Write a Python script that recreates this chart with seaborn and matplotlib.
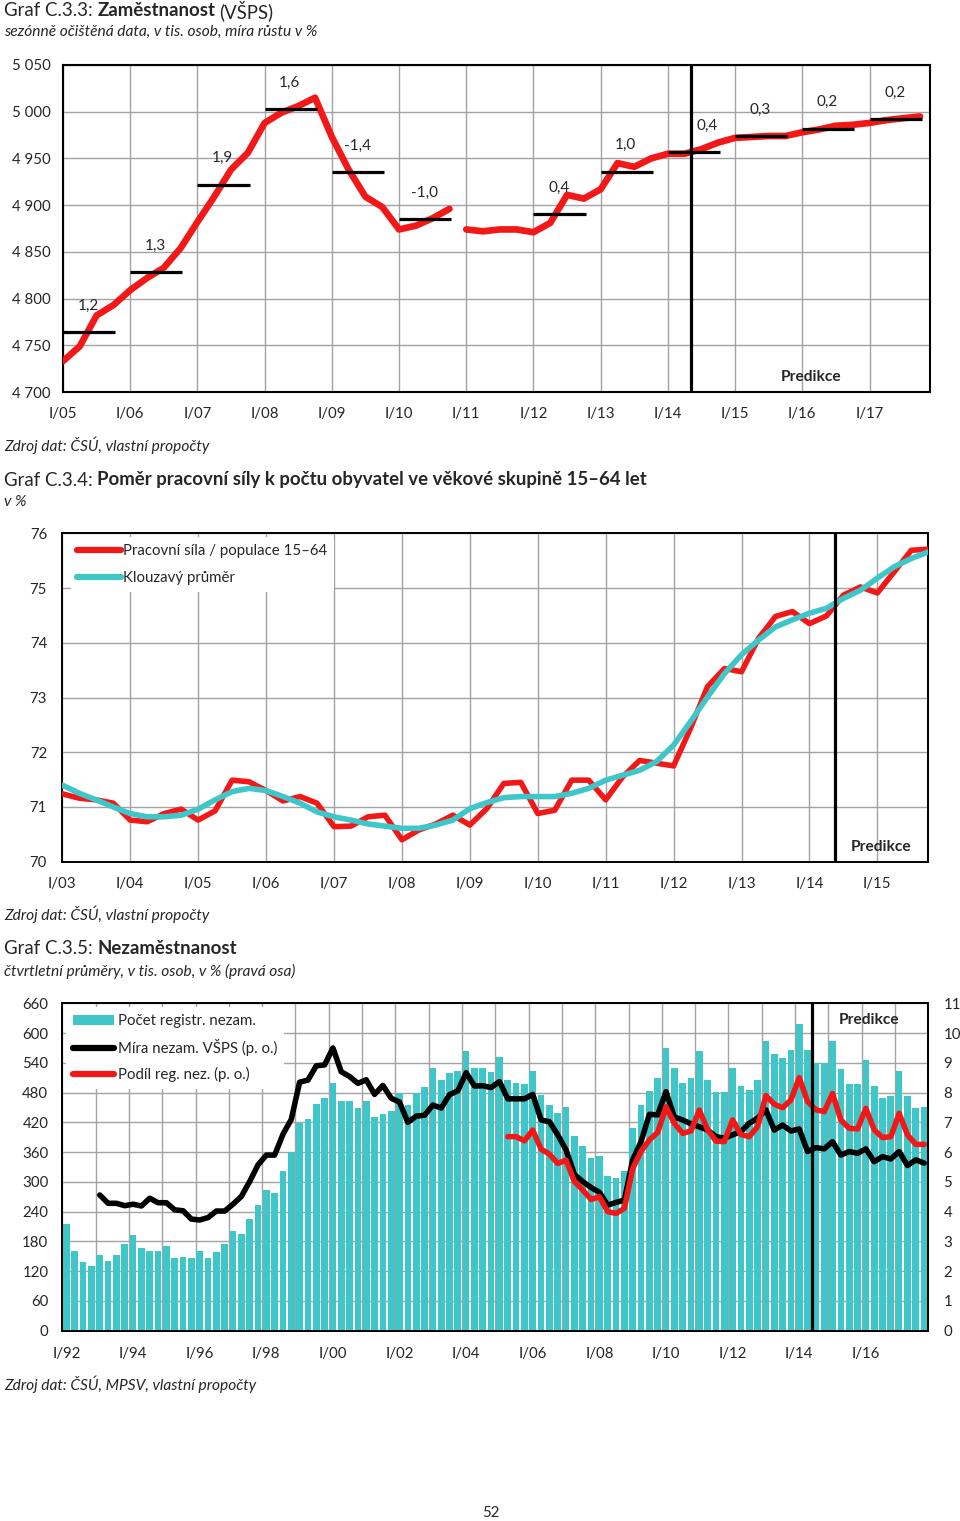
import numpy as np
import matplotlib

matplotlib.use("Agg")
import matplotlib.pyplot as plt
import seaborn as sns
from matplotlib.lines import Line2D
from matplotlib.patches import Patch

# --- Graf C.3.3: employment (thousands), quarterly 2005Q1..2017Q4 -------------
emp_q = [
    4733, 4749, 4782, 4793, 4809, 4822, 4833, 4854, 4882, 4909, 4938, 4956,
    4988, 4999, 5006, 5015, 4973, 4938, 4909, 4898, 4874, 4878, 4886, 4896,
    4874, 4872, 4874, 4874, 4871, 4881, 4911, 4907, 4917, 4945, 4941, 4950,
    4955, 4955, 4960, 4967, 4972, 4973, 4974, 4974, 4978, 4981, 4985, 4986,
    4988, 4991, 4993, 4995,
]
emp_year_avg = [4764, 4828, 4922, 5003, 4935, 4885, np.nan, 4890, 4936, 4957, 4974, 4982, 4992]
emp_growth = [1.2, 1.3, 1.9, 1.6, -1.4, -1.0, np.nan, 0.4, 1.0, 0.4, 0.3, 0.2, 0.2]
emp_xlabels = ["I/05", "I/06", "I/07", "I/08", "I/09", "I/10", "I/11",
               "I/12", "I/13", "I/14", "I/15", "I/16", "I/17"]

# --- Graf C.3.4: labour force / population 15-64, 2003Q1..2015Q4 ------------
lf_ratio = [
    71.24, 71.16, 71.13, 71.07, 70.76, 70.73, 70.88, 70.96, 70.76, 70.93, 71.49, 71.46,
    71.30, 71.11, 71.19, 71.07, 70.64, 70.65, 70.82, 70.85, 70.40, 70.58, 70.69, 70.85,
    70.67, 70.97, 71.43, 71.45, 70.88, 70.94, 71.49, 71.49, 71.13, 71.55, 71.85, 71.80,
    71.75, 72.44, 73.20, 73.53, 73.47, 74.08, 74.48, 74.57, 74.35, 74.49, 74.87, 75.02,
    74.91, 75.30, 75.69, 75.71,
]
lf_ma = [
    71.40, 71.25, 71.13, 71.00, 70.88, 70.82, 70.82, 70.85, 70.96, 71.13, 71.28, 71.34,
    71.30, 71.19, 71.07, 70.91, 70.82, 70.76, 70.69, 70.65, 70.61, 70.61, 70.67, 70.76,
    70.97, 71.08, 71.17, 71.19, 71.19, 71.19, 71.25, 71.34, 71.49, 71.58, 71.67, 71.83,
    72.13, 72.56, 73.01, 73.44, 73.78, 74.05, 74.29, 74.42, 74.54, 74.63, 74.81, 74.96,
    75.18, 75.39, 75.54, 75.66,
]
lf_xlabels = ["I/03", "I/04", "I/05", "I/06", "I/07", "I/08", "I/09",
              "I/10", "I/11", "I/12", "I/13", "I/14", "I/15"]

# --- Graf C.3.5: unemployment, 1992Q1..2017Q4 --------------------------------
reg_unemp = [
    216, 161, 138, 131, 152, 140, 152, 174, 192, 167, 161, 161,
    171, 146, 149, 146, 161, 146, 158, 174, 201, 195, 225, 253,
    283, 277, 321, 360, 419, 426, 457, 469, 499, 463, 463, 448,
    463, 430, 437, 443, 480, 455, 480, 491, 530, 505, 519, 523,
    564, 530, 530, 521, 551, 505, 500, 497, 524, 475, 454, 439,
    451, 393, 372, 348, 353, 311, 307, 321, 408, 455, 484, 509,
    569, 530, 500, 509, 564, 505, 481, 481, 530, 494, 485, 505,
    583, 558, 549, 565, 618, 565, 539, 539, 583, 528, 497, 497,
    546, 494, 470, 473, 524, 473, 448, 451,
]
vsps_rate = [np.nan] * 4 + [
    4.56, 4.28, 4.28, 4.20, 4.25, 4.19, 4.45, 4.30, 4.30, 4.06, 4.03, 3.75,
    3.72, 3.80, 4.02, 4.02, 4.25, 4.51, 5.01, 5.57, 5.90, 5.90, 6.60, 7.10,
    8.35, 8.42, 8.90, 8.93, 9.50, 8.70, 8.54, 8.31, 8.43, 7.94, 8.24, 7.81,
    7.68, 7.00, 7.21, 7.24, 7.58, 7.48, 7.93, 8.06, 8.67, 8.22, 8.23, 8.17,
    8.37, 7.79, 7.79, 7.79, 7.94, 7.08, 7.02, 6.58, 6.07, 5.25, 5.01, 4.81,
    4.65, 4.22, 4.31, 4.39, 5.74, 6.35, 7.27, 7.25, 8.03, 7.18, 7.08, 6.95,
    6.85, 6.74, 6.52, 6.47, 6.58, 6.69, 6.97, 7.14, 7.42, 6.74, 6.91, 6.71,
    6.78, 6.02, 6.15, 6.11, 6.35, 5.90, 6.02, 5.96, 6.11, 5.68, 5.85, 5.77,
    6.02, 5.55, 5.74, 5.63,
]
reg_share = [np.nan] * 53 + [
    6.52, 6.52, 6.38, 6.74, 6.10, 5.93, 5.62, 5.73, 5.01, 4.73, 4.41,
    4.50, 4.00, 3.94, 4.11, 5.45, 6.02, 6.41, 6.66, 7.52, 6.97, 6.63, 6.71,
    7.41, 6.75, 6.37, 6.35, 7.08, 6.59, 6.52, 6.86, 7.90, 7.61, 7.49, 7.75,
    8.50, 7.70, 7.42, 7.36, 7.97, 7.08, 6.80, 6.78, 7.47, 6.75, 6.49, 6.52,
    7.30, 6.58, 6.26, 6.26,
]
un_xlabels = ["I/92", "I/94", "I/96", "I/98", "I/00", "I/02", "I/04",
              "I/06", "I/08", "I/10", "I/12", "I/14", "I/16"]

RED = "#F21818"
CYAN = "#3EC6C9"
GRID = "#A3A3A3"
W, H = 960, 1521
FS = 10.8

sns.set_style("white")
plt.rcParams["font.family"] = ["Lato", "DejaVu Sans"]
plt.rcParams["axes.unicode_minus"] = False


def heading(fig, y_px, parts, size=13.4):
    """Write a line of mixed regular/bold text starting at the left margin."""
    renderer = fig.canvas.get_renderer()
    x = 4
    for txt, weight in parts:
        t = fig.text(x / W, 1 - y_px / H, txt, fontsize=size, fontweight=weight,
                     va="center", ha="left")
        x = t.get_window_extent(renderer).x1 + 4.5


def note(fig, y_px, txt, size=11.2, style="italic"):
    fig.text(4 / W, 1 - y_px / H, txt, fontsize=size, style=style, va="center", ha="left")


def frame(ax, lw=1.4):
    for s in ax.spines.values():
        s.set_visible(True)
        s.set_color("black")
        s.set_linewidth(lw)
    ax.set_xlabel("")
    ax.set_ylabel("")


def axes_at(fig, left, top, right, bottom):
    return fig.add_axes([left / W, 1 - bottom / H, (right - left) / W, (bottom - top) / H])


def white_legend(ax, handles, labels, anchor, handlelength, textpad, spacing):
    leg = ax.legend(handles=handles, labels=labels, loc="upper left",
                    bbox_to_anchor=anchor, frameon=True, fontsize=FS,
                    handlelength=handlelength, handletextpad=textpad,
                    borderaxespad=0.1, borderpad=0.45, labelspacing=spacing)
    leg.get_frame().set_facecolor("white")
    leg.get_frame().set_edgecolor("none")
    leg.get_frame().set_alpha(1)
    return leg


fig = plt.figure(figsize=(9.6, 15.21), dpi=100)

# ============================ Graf C.3.3 ============================
heading(fig, 11, [("Graf C.3.3:", "normal"), ("Zaměstnanost", "bold"), ("(VŠPS)", "normal")])
note(fig, 32, "sezónně očištěná data, v tis. osob, míra růstu v %")

ax1 = axes_at(fig, 63, 65, 930, 392)
q1 = np.arange(len(emp_q))
line_kw = dict(solid_capstyle="round", solid_joinstyle="round", estimator=None)
sns.lineplot(x=q1[:24], y=emp_q[:24], ax=ax1, color=RED, linewidth=4.8, zorder=3, **line_kw)
sns.lineplot(x=q1[24:], y=emp_q[24:], ax=ax1, color=RED, linewidth=4.8, zorder=3, **line_kw)

forecast1 = 37.35
for k, (avg, g) in enumerate(zip(emp_year_avg, emp_growth)):
    if np.isnan(avg):
        continue
    ax1.hlines(avg, 4 * k, 4 * k + 3.1, color="black", linewidth=2.3, zorder=4)
    lx = 4 * k + 1.5
    if abs(lx - forecast1) < 1.0:
        lx = forecast1 + 1.0
    ax1.annotate(f"{g:.1f}".replace(".", ","), (lx, avg), xytext=(0, 19),
                 textcoords="offset points", ha="center", va="center", fontsize=11)

ax1.axvline(forecast1, color="black", linewidth=2.3, zorder=5)
ax1.text(0.863, 0.046, "Predikce", transform=ax1.transAxes, ha="center", va="center",
         fontsize=11.2, fontweight="bold")
ax1.set_xlim(0, 51.6)
ax1.set_ylim(4700, 5050)
yt1 = np.arange(4700, 5051, 50)
ax1.set_yticks(yt1)
ax1.set_yticklabels([f"{v:,}".replace(",", " ") for v in yt1])
ax1.set_xticks(np.arange(0, 52, 4))
ax1.set_xticklabels(emp_xlabels)
ax1.grid(True, color=GRID, linewidth=1.0)
ax1.set_axisbelow(True)
ax1.tick_params(length=0, labelsize=FS)
ax1.tick_params(axis="y", pad=9)
ax1.tick_params(axis="x", pad=11)
frame(ax1, 1.5)
note(fig, 445, "Zdroj dat: ČSÚ, vlastní propočty")

# ============================ Graf C.3.4 ============================
heading(fig, 480, [("Graf C.3.4:", "normal"),
                   ("Poměr pracovní síly k počtu obyvatel ve věkové skupině 15–64 let", "bold")])
note(fig, 502, "v %")

ax2 = axes_at(fig, 62.3, 533.3, 928.3, 861.7)
q2 = np.arange(len(lf_ratio))
sns.lineplot(x=q2, y=lf_ratio, ax=ax2, color=RED, linewidth=4.0, zorder=3, **line_kw)
sns.lineplot(x=q2, y=lf_ma, ax=ax2, color=CYAN, linewidth=4.0, zorder=4, **line_kw)
ax2.axvline(45.5, color="black", linewidth=2.3, zorder=5)
ax2.text(0.945, 0.045, "Predikce", transform=ax2.transAxes, ha="center", va="center",
         fontsize=11.2, fontweight="bold")
ax2.set_xlim(0, 51)
ax2.set_ylim(70, 76)
ax2.set_yticks(np.arange(70, 77, 1))
ax2.set_xticks(np.arange(0, 52, 4))
ax2.set_xticklabels(lf_xlabels)
ax2.grid(True, color=GRID, linewidth=1.0)
ax2.set_axisbelow(True)
ax2.tick_params(length=0, labelsize=FS)
ax2.tick_params(axis="y", pad=11)
ax2.tick_params(axis="x", pad=11)
frame(ax2, 1.4)
white_legend(
    ax2,
    [Line2D([], [], color=RED, linewidth=4.5, solid_capstyle="round"),
     Line2D([], [], color=CYAN, linewidth=4.5, solid_capstyle="round")],
    ["Pracovní síla / populace 15–64", "Klouzavý průměr"],
    (0.008, 0.993), 2.9, 0.12, 0.9,
)
note(fig, 914, "Zdroj dat: ČSÚ, vlastní propočty")

# ============================ Graf C.3.5 ============================
heading(fig, 949, [("Graf C.3.5:", "normal"), ("Nezaměstnanost", "bold")])
note(fig, 971, "čtvrtletní průměry, v tis. osob, v % (pravá osa)")

ax3 = axes_at(fig, 62.3, 1003.3, 928.3, 1330.7)
cat_x = np.arange(len(reg_unemp)) + 0.5
sns.barplot(x=cat_x, y=reg_unemp, ax=ax3, native_scale=True, color=CYAN, saturation=1,
            width=0.8, errorbar=None, linewidth=0, edgecolor="none")
ax3.set_xlim(0, len(reg_unemp))
ax3.set_ylim(0, 660)
ax3.set_yticks(np.arange(0, 661, 60))
ax3.set_xticks(np.arange(0, len(reg_unemp) + 1, 4))
ax3.set_xticklabels([])
ax3.set_xticks(np.arange(0.5, len(reg_unemp), 8), minor=True)
ax3.set_xticklabels(un_xlabels, minor=True)
ax3.grid(True, which="major", color=GRID, linewidth=1.0)
ax3.set_axisbelow(True)
ax3.tick_params(axis="y", length=0, labelsize=FS, pad=10)
ax3.tick_params(axis="x", which="major", length=4, width=1.2, color="black", direction="out")
ax3.tick_params(axis="x", which="minor", length=0, labelsize=FS, pad=12)
frame(ax3, 1.4)

ax3r = ax3.twinx()
sns.lineplot(x=cat_x, y=vsps_rate, ax=ax3r, color="black", linewidth=4.0, zorder=3, **line_kw)
sns.lineplot(x=cat_x, y=reg_share, ax=ax3r, color=RED, linewidth=4.0, zorder=4, **line_kw)
ax3r.axvline(90, color="black", linewidth=2.3, zorder=5)
ax3r.text(0.9315, 0.949, "Predikce", transform=ax3r.transAxes, ha="center", va="center",
          fontsize=11.2, fontweight="bold")
ax3r.set_xlim(0, len(reg_unemp))
ax3r.set_ylim(0, 11)
ax3r.set_yticks(np.arange(0, 12, 1))
ax3r.tick_params(axis="y", length=0, labelsize=FS, pad=11)
frame(ax3r, 1.4)
white_legend(
    ax3r,
    [Patch(facecolor=CYAN, edgecolor="none"),
     Line2D([], [], color="black", linewidth=4.5, solid_capstyle="round"),
     Line2D([], [], color=RED, linewidth=4.5, solid_capstyle="round")],
    ["Počet registr. nezam.", "Míra nezam. VŠPS (p. o.)", "Podíl reg. nez. (p. o.)"],
    (0.003, 0.992), 2.7, 0.3, 0.72,
)
note(fig, 1384, "Zdroj dat: ČSÚ, MPSV, vlastní propočty")

fig.text(491 / W, 1 - 1513 / H, "52", fontsize=FS, ha="center", va="center")

fig.savefig("out.png", dpi=100)
